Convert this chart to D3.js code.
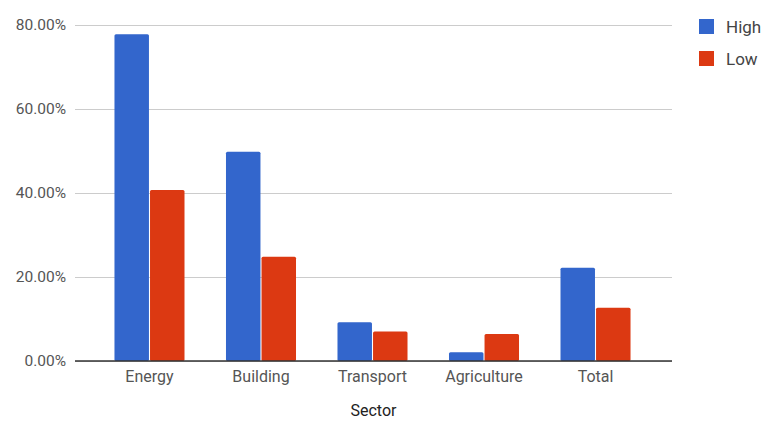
<!DOCTYPE html>
<html>
<head>
<meta charset="utf-8">
<script src="https://cdn.jsdelivr.net/npm/d3@7/dist/d3.min.js"></script>
<style>
  html, body { margin: 0; padding: 0; background: #fff; }
  svg { display: block; }
</style>
</head>
<body>
<svg id="chart" width="763" height="421"></svg>
<script>
// Savings share by sector, two scenarios
const sectors = ["Energy", "Building", "Transport", "Agriculture", "Total"];
const seriesNames = ["High", "Low"];
const highValues = [0.778, 0.498, 0.092, 0.021, 0.222];
const lowValues = [0.407, 0.248, 0.070, 0.064, 0.127];
const yTicks = [0, 0.2, 0.4, 0.6, 0.8];
const colors = ["#3366cc", "#dc3912"];
const axisTitle = "Sector";

const rows = sectors.map((s, i) => ({ sector: s, values: [highValues[i], lowValues[i]] }));

const svg = d3.select("#chart");
const plot = { left: 75, right: 672, top: 25, bottom: 361 };
const font = "Roboto, 'Liberation Sans', Arial, sans-serif";

const x0 = d3.scaleBand().domain(sectors).range([74, 671])
  .paddingInner(0.372).paddingOuter(0.363);
const x1 = d3.scaleBand().domain(seriesNames).range([0, x0.bandwidth()]).paddingInner(0.03);
const y = d3.scaleLinear().domain([0, 0.8]).range([plot.bottom, plot.top]);

// gridlines and y tick labels
const yAxis = d3.axisLeft(y).tickValues(yTicks).tickFormat(d3.format(".2%"))
  .tickSize(-(plot.right - plot.left)).tickPadding(9);
const gy = svg.append("g").attr("transform", `translate(${plot.left},0)`).call(yAxis);
gy.select(".domain").remove();
gy.selectAll(".tick line").attr("stroke", "#cccccc").attr("stroke-width", 1);
gy.selectAll(".tick text").attr("fill", "#555").style("font-family", font).style("font-size", "15.5px");

// bars
const groups = svg.append("g").selectAll("g").data(rows).join("g")
  .attr("transform", d => `translate(${x0(d.sector)},0)`);
groups.selectAll("rect").data(d => d.values.map((v, k) => ({ k, v }))).join("rect")
  .attr("x", d => x1(seriesNames[d.k]))
  .attr("y", d => y(d.v))
  .attr("width", x1.bandwidth())
  .attr("height", d => y(0) - y(d.v))
  .attr("rx", 1.5)
  .attr("fill", d => colors[d.k]);

// baseline
svg.append("line").attr("x1", plot.left).attr("x2", plot.right)
  .attr("y1", y(0)).attr("y2", y(0)).attr("stroke", "#333").attr("stroke-width", 1.5);

// category labels
const xAxis = d3.axisBottom(x0).tickSize(0).tickPadding(10);
const gx = svg.append("g").attr("transform", `translate(0,${y(0)})`).call(xAxis);
gx.select(".domain").remove();
gx.selectAll(".tick text").attr("fill", "#555").style("font-family", font).style("font-size", "16px");

// axis title
svg.append("text").attr("x", (plot.left + plot.right) / 2).attr("y", 416)
  .attr("text-anchor", "middle").attr("fill", "#222")
  .style("font-family", font).style("font-size", "16px").text(axisTitle);

// legend
const legend = svg.append("g").selectAll("g").data(seriesNames).join("g")
  .attr("transform", (d, i) => `translate(699,${19 + i * 32})`);
legend.append("rect").attr("width", 15).attr("height", 15).attr("fill", (d, i) => colors[i]);
legend.append("text").attr("x", 27).attr("y", 14).attr("fill", "#444")
  .style("font-family", font).style("font-size", "17px").text(d => d);
</script>
</body>
</html>
